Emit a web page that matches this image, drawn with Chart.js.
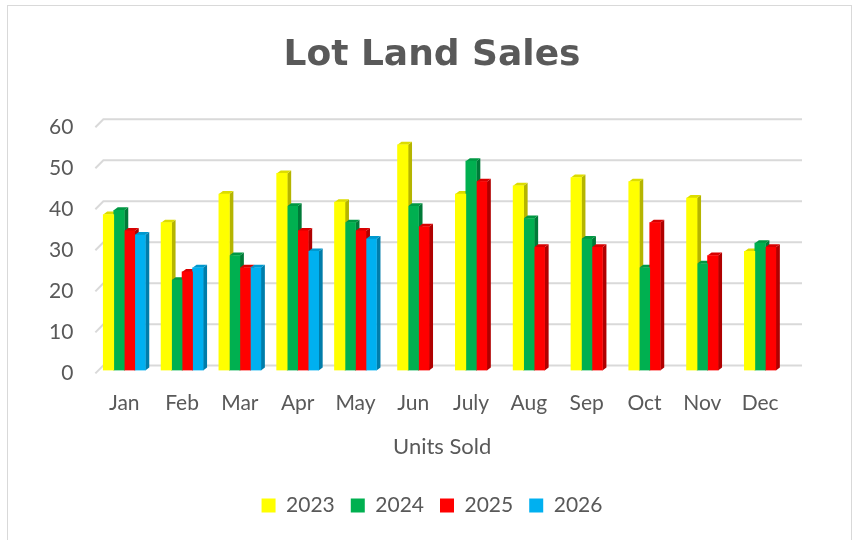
<!DOCTYPE html>
<html>
<head>
<meta charset="utf-8">
<script src="https://cdn.jsdelivr.net/npm/chart.js@4/dist/chart.umd.min.js"></script>
<style>
  html, body { margin: 0; padding: 0; background: #ffffff; }
  #wrap { position: relative; width: 856px; height: 540px; }
  #frame { position: absolute; left: 7px; top: 5px; width: 845px; height: 545px; border: 1px solid #d9d9d9; box-sizing: border-box; pointer-events: none; }
</style>
</head>
<body>
<div id="wrap">
  <canvas id="c" width="856" height="540"></canvas>
  <div id="frame"></div>
</div>
<script>
const months = ["Jan", "Feb", "Mar", "Apr", "May", "Jun", "July", "Aug", "Sep", "Oct", "Nov", "Dec"];
const sales2023 = [38, 36, 43, 48, 41, 55, 43, 45, 47, 46, 42, 29];
const sales2024 = [39, 22, 28, 40, 36, 40, 51, 37, 32, 25, 26, 31];
const sales2025 = [34, 24, 25, 34, 34, 35, 46, 30, 30, 36, 28, 30];
const sales2026 = [33, 25, 25, 29, 32, null, null, null, null, null, null, null];
const yTicks = [0, 10, 20, 30, 40, 50, 60];

const seriesNames = ["2023", "2024", "2025", "2026"];
const frontColors = ["#FFFF00", "#00B050", "#FF0000", "#00B0F0"];
const sideColors  = ["#B5B500", "#007A38", "#B00000", "#007DAA"];
const topColors   = ["#DCDC00", "#009843", "#D80000", "#0098CE"];

const DX = 4, DY = 3;

const depthPlugin = {
  id: 'depth3d',
  beforeDatasetsDraw(chart) {
    const ctx = chart.ctx;
    const ys = chart.scales.y;
    const a = chart.chartArea;
    ctx.save();
    ctx.strokeStyle = '#d9d9d9';
    ctx.lineWidth = 2;
    ys.ticks.forEach(t => {
      const py = ys.getPixelForValue(t.value);
      ctx.beginPath();
      ctx.moveTo(a.left, py + 3);
      ctx.lineTo(a.left + 8, py - 5);
      ctx.lineTo(a.right + 13, py - 5);
      ctx.stroke();
    });
    const n = chart.data.labels.length;
    for (let i = 0; i < n; i++) {
      chart.data.datasets.forEach((ds, d) => {
        const v = ds.data[i];
        if (v === null || v === undefined) return;
        const el = chart.getDatasetMeta(d).data[i];
        const p = el.getProps(['x', 'y', 'base', 'width'], true);
        const left = p.x - p.width / 2, right = p.x + p.width / 2;
        ctx.fillStyle = sideColors[d];
        ctx.beginPath();
        ctx.moveTo(right, p.y);
        ctx.lineTo(right + DX, p.y - DY);
        ctx.lineTo(right + DX, p.base - DY);
        ctx.lineTo(right, p.base);
        ctx.closePath();
        ctx.fill();
        ctx.fillStyle = topColors[d];
        ctx.beginPath();
        ctx.moveTo(left, p.y);
        ctx.lineTo(left + DX, p.y - DY);
        ctx.lineTo(right + DX, p.y - DY);
        ctx.lineTo(right, p.y);
        ctx.closePath();
        ctx.fill();
      });
    }
    ctx.restore();
  }
};

const allSeries = [sales2023, sales2024, sales2025, sales2026];
const datasets = allSeries.map((vals, i) => ({
  label: seriesNames[i],
  data: vals,
  backgroundColor: frontColors[i],
  borderWidth: 0,
  barThickness: 10.5,
  skipNull: true
}));

const textColor = '#595959';
const baseFont = 'Lato, "Open Sans", sans-serif';

new Chart(document.getElementById('c'), {
  type: 'bar',
  data: { labels: months, datasets },
  plugins: [depthPlugin],
  options: {
    responsive: false,
    animation: false,
    layout: { padding: { left: 35, right: 27, top: 0, bottom: 14 } },
    plugins: {
      title: {
        display: true,
        text: 'Lot Land Sales',
        color: textColor,
        font: { family: '"DejaVu Sans", sans-serif', size: 36, weight: 'bold' },
        padding: { top: 34, bottom: 47 }
      },
      legend: {
        position: 'bottom',
        labels: {
          color: textColor,
          font: { family: baseFont, size: 21 },
          boxWidth: 14,
          boxHeight: 14,
          padding: 16
        }
      },
      tooltip: { enabled: false }
    },
    scales: {
      x: {
        grid: { display: false },
        border: { display: false },
        ticks: { color: textColor, font: { family: baseFont, size: 21 }, padding: 12 },
        title: {
          display: true,
          text: 'Units Sold',
          color: textColor,
          font: { family: baseFont, size: 22 },
          padding: { top: 6, bottom: 19 }
        }
      },
      y: {
        min: yTicks[0],
        max: yTicks[yTicks.length - 1],
        grid: { display: false },
        border: { display: false },
        afterBuildTicks(scale) { scale.ticks = yTicks.map(v => ({ value: v })); },
        ticks: { color: textColor, font: { family: baseFont, size: 21 }, padding: 14, labelOffset: 3 }
      },
      y2: {
        position: 'right',
        display: true,
        grid: { display: false },
        border: { display: false },
        ticks: { display: false },
        afterFit(scale) { scale.width = 40; }
      }
    }
  }
});
</script>
</body>
</html>
